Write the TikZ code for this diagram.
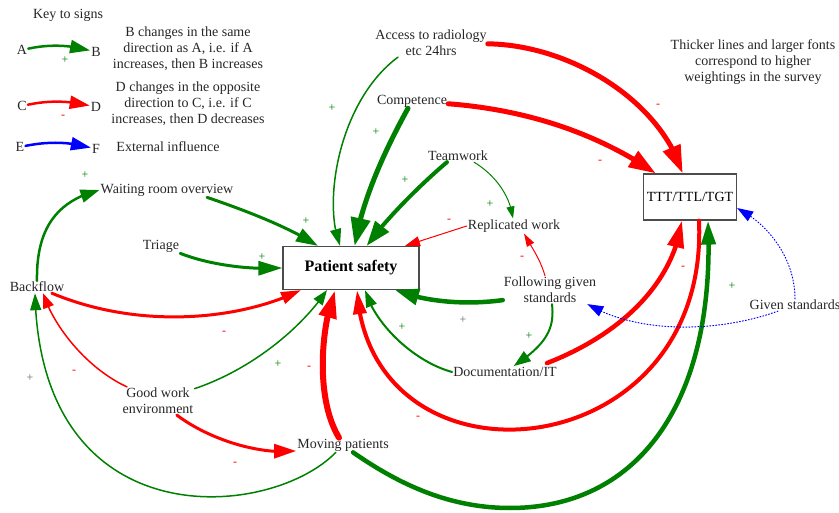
\documentclass[tikz,border=0pt]{standalone}
\usepackage{fontspec}
\setmainfont{Liberation Serif}
\usetikzlibrary{arrows.meta, bending}

\definecolor{posgreen}{RGB}{0,128,0}
\definecolor{negred}{RGB}{255,0,0}
\definecolor{extblue}{RGB}{0,0,255}

\begin{document}
\begin{tikzpicture}[x=1pt, y=-1pt, line cap=round]
      \tikzstyle{factor} = [
        inner sep = 1pt,
        align = center,
        text = black!85,
        font = \fontsize{14}{16}\selectfont
      ]

      \tikzstyle{box} = [
        rectangle,
        draw = black!70,
        line width = 1.2pt,
        fill = white,
        text = black,
        text centered
      ]

      \tikzstyle{posline} = [draw = posgreen]
      \tikzstyle{negline} = [draw = negred]
      \tikzstyle{extline} = [draw = extblue, dotted, line width = 1pt]

      \tikzstyle{possign} = [
        text = posgreen,
        inner sep = 0pt,
        font = \fontsize{12}{12}\selectfont
      ]
      \tikzstyle{graysign} = [possign, text = black!60]
      \tikzstyle{negsign} = [
        text = negred,
        inner sep = 0pt,
        font = \fontsize{12}{12}\selectfont
      ]

      \useasboundingbox (0,0) rectangle (839,513);

      % key
      \node[factor] (keytitle) at (68,15) {Key to signs};
      \node[factor] (a) at (22,50) {A};
      \node[factor] (b) at (96,52) {B};
      \node[factor] (keyab) at (188,49) {B changes in the same\\direction as
      A, i.e. if A\\increases, then B increases};
      \node[factor] (c) at (22,106) {C};
      \node[factor] (d) at (96,107) {D};
      \node[factor] (keycd) at (188,104) {D changes in the opposite\\direction
      to C, i.e. if C\\increases, then D decreases};
      \node[factor] (e) at (20,147) {E};
      \node[factor] (f) at (96,149) {F};
      \node[factor] (keyef) at (168,147) {External influence};
      \node[factor] (note) at (753,62) {Thicker lines and larger fonts\\correspond
      to higher\\weightings in the survey};

      % factors
      \node[box, minimum width = 136pt, minimum height = 43pt,
      font = \fontsize{16}{18}\selectfont\bfseries] (ps) at (351,268) {Patient safety};
      \node[box, minimum width = 93pt, minimum height = 46pt,
      font = \fontsize{14}{16}\selectfont] (ttt) at (690,197) {TTT/TTL/TGT};
      \node[factor] (radio) at (431,43) {Access to radiology\\etc 24hrs};
      \node[factor] (comp) at (412,101) {Competence};
      \node[factor] (team) at (458,156) {Teamwork};
      \node[factor] (wait) at (167,190) {Waiting room overview};
      \node[factor] (triage) at (161,246) {Triage};
      \node[factor] (back) at (37,287) {Backflow};
      \node[factor] (repl) at (514,226) {Replicated work};
      \node[factor] (follow) at (550,290) {Following given\\standards};
      \node[factor] (given) at (795,305) {Given standards};
      \node[factor] (doc) at (505,372) {Documentation/IT};
      \node[factor] (good) at (158,401) {Good work\\environment};
      \node[factor] (move) at (343,445) {Moving patients};

      % key arrows
      \draw[posline, line width=2.5pt, -{Triangle[length=20pt,width=13pt]}]
      (a) .. controls (50,44) and (70,45) .. (b);
      \draw[negline, line width=2.5pt, -{Triangle[length=20pt,width=13pt]}]
      (c) .. controls (50,100) and (70,101) .. (d);
      \draw[draw=extblue, line width=2.5pt, -{Triangle[length=20pt,width=13pt]}]
      (e) .. controls (50,141) and (70,142) .. (f);

      % links
      \draw[negline, line width=5pt, -{Triangle[length=28pt,width=18pt]}]
      (radio) .. controls (570,45) and (660,100) .. (ttt);
      \draw[negline, line width=5pt, -{Triangle[length=27pt,width=18pt]}]
      (comp) .. controls (530,110) and (600,135) .. (ttt);
      \draw[posline, line width=1.5pt, -{Triangle[length=17pt,width=11pt]}]
      ([xshift=-33pt]radio.south) .. controls (340,100) and (322,200) ..
      ([xshift=-11pt]ps.north);
      \draw[posline, line width=5pt, -{Triangle[length=28pt,width=19pt]}]
      ([xshift=-4pt]comp.south) .. controls (385,150) and (362,200) .. (ps);
      \draw[posline, line width=4pt, -{Triangle[length=25pt,width=17pt]}]
      ([xshift=-11pt]team.south) .. controls (420,185) and (385,220) .. (ps);
      \draw[posline, line width=1pt, -{Triangle[length=12pt,width=8pt]}]
      ([xshift=16pt]team.south) .. controls (495,175) and (510,195) .. (repl);
      \draw[negline, line width=1pt, -{Triangle[length=15pt,width=10pt]}]
      (repl.west) -- ([xshift=54pt]ps.north);
      \draw[negline, line width=1pt, -{Triangle[length=13pt,width=8pt]}]
      ([xshift=-5pt]follow.north) .. controls (540,258) and (530,245) ..
      ([xshift=10pt]repl.south);
      \draw[posline, line width=4.5pt, -{Triangle[length=24pt,width=16pt]}]
      ([yshift=4pt]follow.south west) .. controls (460,306) and (420,300) ..
      ([xshift=44pt]ps.south);
      \draw[posline, line width=2pt, -{Triangle[length=17pt,width=12pt]}]
      ([xshift=2pt]follow.south) .. controls (555,330) and (545,345) .. (doc);
      \draw[posline, line width=2pt, -{Triangle[length=17pt,width=11pt]}]
      (doc.west) .. controls (415,362) and (375,325) .. ([xshift=14pt]ps.south);
      \draw[negline, line width=4.5pt, -{Triangle[length=27pt,width=16pt]}]
      ([xshift=42pt, yshift=3pt]doc.north) .. controls (612,338) and (672,290) ..
      ([xshift=-8pt]ttt.south);
      \draw[negline, line width=4pt, -{Triangle[length=24pt,width=13pt]}]
      ([xshift=9pt]ttt.south) .. controls (710,470) and (370,500) ..
      ([xshift=6pt]ps.south);
      \draw[posline, line width=4.5pt, -{Triangle[length=24pt,width=14pt]}]
      ([xshift=10pt]move.south) .. controls (400,485) and (450,508) .. (510,508)
      .. controls (640,508) and (716,400) .. ([xshift=18pt]ttt.south);
      \draw[negline, line width=6pt, -{Triangle[length=28pt,width=17pt]}]
      ([xshift=-4pt]move.north) .. controls (316,400) and (320,330) ..
      ([xshift=-16pt]ps.south);
      \draw[posline, line width=1.5pt, -{Triangle[length=17pt,width=11pt]}]
      (move) .. controls (270,520) and (40,540) .. ([xshift=-2pt]back.south);
      \draw[posline, line width=2.5pt, -{Triangle[length=19pt,width=13pt]}]
      (back.north) .. controls (36,225) and (60,200) .. (wait.west);
      \draw[negline, line width=3pt, -{Triangle[length=20pt,width=12pt]}]
      (back) .. controls (140,330) and (240,320) .. ([xshift=-50pt]ps.south);
      \draw[negline, line width=1.5pt, -{Triangle[length=15pt,width=11pt]}]
      (good) .. controls (90,370) and (55,330) .. ([xshift=6pt]back.south);
      \draw[posline, line width=1.5pt, -{Triangle[length=15pt,width=11pt]}]
      (good) .. controls (250,370) and (300,330) .. ([xshift=-24pt]ps.south);
      \draw[negline, line width=3pt, -{Triangle[length=22pt,width=14pt]}]
      (good) .. controls (210,440) and (260,455) .. ([yshift=-6pt]move.west);
      \draw[posline, line width=3pt, -{Triangle[length=22pt,width=14pt]}]
      ([xshift=40pt]wait.south) .. controls (250,212) and (290,228) ..
      ([xshift=-33pt]ps.north);
      \draw[posline, line width=3pt, -{Triangle[length=24pt,width=14pt]}]
      (triage.south east) .. controls (210,265) and (250,270) .. (ps.west);
      \draw[extline, -{Triangle[length=16pt,width=11pt]}]
      (given.north) .. controls (795,260) and (770,225) .. ([yshift=-11pt]ttt.east);
      \draw[extline, -{Triangle[length=16pt,width=11pt]}]
      (given) .. controls (720,332) and (640,335) .. ([xshift=-10pt]follow.south east);

      % signs
      \node[possign] (s1) at (65,60) {+};
      \node[negsign] (s2) at (63,117) {-};
      \node[negsign] (s3) at (658,106) {-};
      \node[negsign] (s4) at (600,162) {-};
      \node[possign] (s5) at (332,108) {+};
      \node[possign] (s6) at (376,132) {+};
      \node[possign] (s7) at (405,180) {+};
      \node[possign] (s8) at (490,204) {+};
      \node[negsign] (s9) at (449,221) {-};
      \node[negsign] (s10) at (522,258) {-};
      \node[graysign] (s11) at (463,320) {+};
      \node[possign] (s12) at (529,336) {+};
      \node[possign] (s13) at (402,327) {+};
      \node[negsign] (s14) at (683,268) {-};
      \node[possign] (s15) at (732,286) {+};
      \node[negsign] (s16) at (418,418) {-};
      \node[possign] (s17) at (306,221) {+};
      \node[possign] (s18) at (262,257) {+};
      \node[negsign] (s19) at (224,333) {-};
      \node[possign] (s20) at (85,175) {+};
      \node[negsign] (s21) at (74,372) {-};
      \node[possign] (s22) at (278,364) {+};
      \node[negsign] (s23) at (309,368) {-};
      \node[negsign] (s24) at (235,464) {-};
      \node[graysign] (s25) at (30,378) {+};
    \end{tikzpicture}
\end{document}
